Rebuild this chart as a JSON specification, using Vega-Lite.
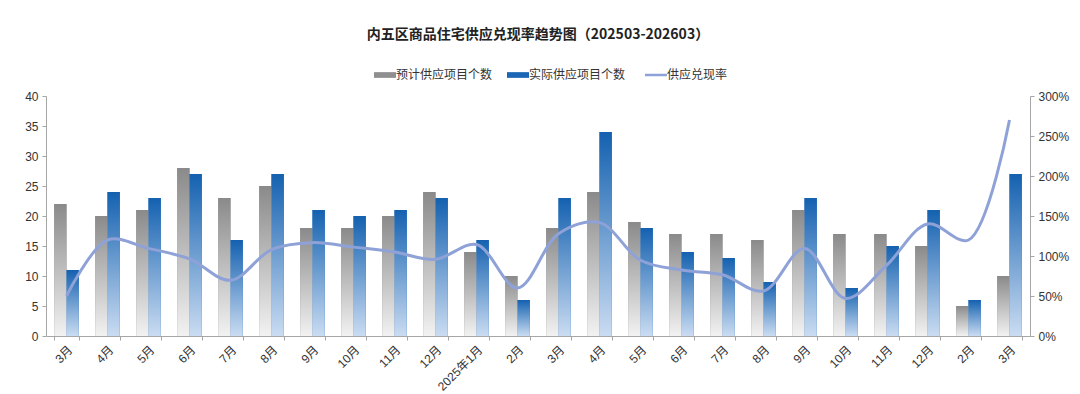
{
  "$schema": "https://vega.github.io/schema/vega-lite/v6.json",
  "width": 984,
  "height": 240,
  "autosize": {"type": "none"},
  "padding": {"left": 46, "top": 96, "right": 50, "bottom": 58},
  "background": "white",
  "config": {
    "font": "Noto Sans CJK SC",
    "view": {"stroke": null},
    "axis": {"labelFont": "Liberation Sans, Noto Sans CJK SC", "labelFontSize": 12, "labelColor": "#333333", "domainColor": "#a6a6a6", "tickColor": "#a6a6a6", "grid": false, "title": null}
  },
  "title": {
    "text": "内五区商品住宅供应兑现率趋势图（202503-202603）",
    "anchor": "middle",
    "frame": "group",
    "offset": 27,
    "fontSize": 14,
    "fontWeight": "bold",
    "color": "#222222",
    "font": "Noto Sans CJK SC"
  },
  "data": {
    "values": [
      {"key": "01|3月", "预计供应项目个数": 22, "实际供应项目个数": 11, "rate": 0.50},
      {"key": "02|4月", "预计供应项目个数": 20, "实际供应项目个数": 24, "rate": 1.20},
      {"key": "03|5月", "预计供应项目个数": 21, "实际供应项目个数": 23, "rate": 1.095},
      {"key": "04|6月", "预计供应项目个数": 28, "实际供应项目个数": 27, "rate": 0.964},
      {"key": "05|7月", "预计供应项目个数": 23, "实际供应项目个数": 16, "rate": 0.696},
      {"key": "06|8月", "预计供应项目个数": 25, "实际供应项目个数": 27, "rate": 1.08},
      {"key": "07|9月", "预计供应项目个数": 18, "实际供应项目个数": 21, "rate": 1.167},
      {"key": "08|10月", "预计供应项目个数": 18, "实际供应项目个数": 20, "rate": 1.111},
      {"key": "09|11月", "预计供应项目个数": 20, "实际供应项目个数": 21, "rate": 1.05},
      {"key": "10|12月", "预计供应项目个数": 24, "实际供应项目个数": 23, "rate": 0.958},
      {"key": "11|2025年1月", "预计供应项目个数": 14, "实际供应项目个数": 16, "rate": 1.143},
      {"key": "12|2月", "预计供应项目个数": 10, "实际供应项目个数": 6, "rate": 0.60},
      {"key": "13|3月", "预计供应项目个数": 18, "实际供应项目个数": 23, "rate": 1.278},
      {"key": "14|4月", "预计供应项目个数": 24, "实际供应项目个数": 34, "rate": 1.417},
      {"key": "15|5月", "预计供应项目个数": 19, "实际供应项目个数": 18, "rate": 0.947},
      {"key": "16|6月", "预计供应项目个数": 17, "实际供应项目个数": 14, "rate": 0.824},
      {"key": "17|7月", "预计供应项目个数": 17, "实际供应项目个数": 13, "rate": 0.765},
      {"key": "18|8月", "预计供应项目个数": 16, "实际供应项目个数": 9, "rate": 0.5625},
      {"key": "19|9月", "预计供应项目个数": 21, "实际供应项目个数": 23, "rate": 1.095},
      {"key": "20|10月", "预计供应项目个数": 17, "实际供应项目个数": 8, "rate": 0.47},
      {"key": "21|11月", "预计供应项目个数": 17, "实际供应项目个数": 15, "rate": 0.882},
      {"key": "22|12月", "预计供应项目个数": 15, "实际供应项目个数": 21, "rate": 1.40},
      {"key": "23|2月", "预计供应项目个数": 5, "实际供应项目个数": 6, "rate": 1.20},
      {"key": "24|3月", "预计供应项目个数": 10, "实际供应项目个数": 27, "rate": 2.70}
    ]
  },
  "layer": [
    {
      "transform": [{"fold": ["预计供应项目个数", "实际供应项目个数"], "as": ["series", "count"]}],
      "encoding": {
        "x": {
          "field": "key", "type": "nominal", "sort": null,
          "scale": {"paddingInner": 0.4, "paddingOuter": 0.2},
          "axis": {"labelExpr": "split(datum.value, '|')[1]", "labelAngle": -45, "tickBand": "extent", "tickSize": 4, "labelPadding": 4}
        },
        "xOffset": {"field": "series", "type": "nominal", "scale": {"domain": ["预计供应项目个数", "实际供应项目个数"], "paddingInner": 0}},
        "y": {
          "field": "count", "type": "quantitative",
          "scale": {"domain": [0, 40]},
          "axis": {"values": [0, 5, 10, 15, 20, 25, 30, 35, 40], "tickSize": 4, "labelPadding": 4}
        }
      },
      "layer": [
        {
          "mark": {"type": "bar"},
          "encoding": {
            "color": {
              "field": "series", "type": "nominal",
              "scale": {"domain": ["预计供应项目个数", "实际供应项目个数", "供应兑现率"], "range": ["#8f8f8f", "#1c67b5", "#8ea2d8"]},
              "legend": {
                "orient": "none", "legendX": 333, "legendY": -27, "direction": "horizontal", "title": null,
                "labelFontSize": 12, "labelColor": "#333333", "labelFont": "Noto Sans CJK SC", "labelLimit": 200,
                "symbolSize": 484, "labelOffset": 5, "columnPadding": 14,
                "encode": {
                  "symbols": {
                    "update": {
                      "shape": {"signal": "datum.value === '供应兑现率' ? 'stroke' : 'M-1,-0.26H1V0.26H-1Z'"},
                      "fill": {"scale": "color", "field": "value"},
                      "stroke": {"scale": "color", "field": "value"},
                      "strokeWidth": {"signal": "datum.value === '供应兑现率' ? 2.5 : 0"},
                      "opacity": {"value": 1}
                    }
                  }
                }
              }
            }
          }
        },
        {
          "mark": {"type": "bar"},
          "encoding": {
            "fill": {
              "condition": {
                "test": "datum.series === '预计供应项目个数'",
                "value": {"gradient": "linear", "x1": 0, "y1": 0, "x2": 0, "y2": 1, "stops": [{"offset": 0, "color": "#8a8a8a"}, {"offset": 1, "color": "#f2f2f2"}]}
              },
              "value": {"gradient": "linear", "x1": 0, "y1": 0, "x2": 0, "y2": 1, "stops": [{"offset": 0, "color": "#1461b0"}, {"offset": 1, "color": "#cadcf2"}]}
            }
          }
        }
      ]
    },
    {
      "mark": {"type": "line", "interpolate": "catmull-rom", "strokeWidth": 3},
      "encoding": {
        "x": {"field": "key", "type": "nominal", "sort": null},
        "y": {
          "field": "rate", "type": "quantitative",
          "scale": {"domain": [0, 3]},
          "axis": {"orient": "right", "format": ".0%", "values": [0, 0.5, 1, 1.5, 2, 2.5, 3], "tickSize": 4, "labelPadding": 4}
        },
        "color": {"datum": "供应兑现率"}
      }
    }
  ],
  "resolve": {"scale": {"y": "independent"}}
}
